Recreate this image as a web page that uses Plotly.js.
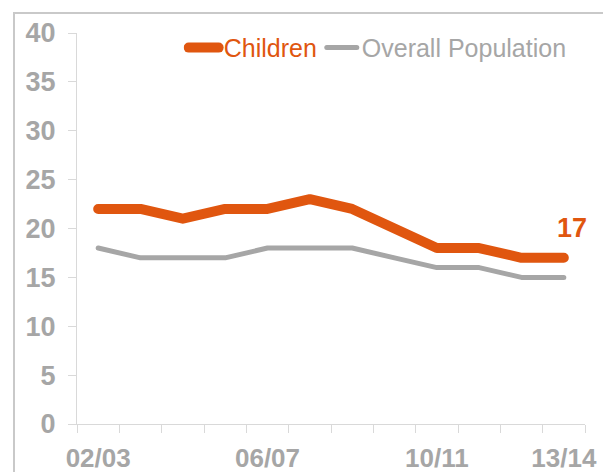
<!DOCTYPE html>
<html>
<head>
<meta charset="utf-8">
<script src="https://cdn.plot.ly/plotly-3.0.1.min.js"></script>
<style>
  html, body { margin: 0; padding: 0; background: #fff; }
  #wrap { position: relative; width: 603px; height: 472px; overflow: hidden; }
  #frame { position: absolute; left: 13px; top: 12px; width: 620px; height: 500px;
           border-left: 2px solid #c9c9c9; border-top: 2px solid #c9c9c9; }
  #chart { position: absolute; left: 0; top: 0; width: 603px; height: 472px; }
  #chart path.js-line { stroke-linecap: round; stroke-linejoin: round; }
</style>
</head>
<body>
<div id="wrap">
  <div id="frame"></div>
  <div id="chart"></div>
</div>
<script>
// Financial years shown on the x axis
const years = ['02/03', '03/04', '04/05', '05/06', '06/07', '07/08',
               '08/09', '09/10', '10/11', '11/12', '12/13', '13/14'];
// Only some years carry a visible label
const yearLabels = ['02/03', '', '', '', '06/07', '', '', '', '10/11', '', '', '13/14'];

// Rates (%) per year
const children = [22, 22, 21, 22, 22, 23, 22, 20, 18, 18, 17, 17];
const overall  = [18, 17, 17, 17, 18, 18, 18, 17, 16, 16, 15, 15];

const yTicks = [0, 5, 10, 15, 20, 25, 30, 35, 40];

const ORANGE = '#e0560f';
const GREY = '#a6a6a6';
const AXIS = '#d9d9d9';
const FONT = 'Liberation Sans, Arial, sans-serif';

const traces = [
  {
    x: years, y: children, type: 'scatter', mode: 'lines',
    name: '<span style="color:' + ORANGE + '">Children</span>',
    line: { color: ORANGE, width: 10 }
  },
  {
    x: years, y: overall, type: 'scatter', mode: 'lines',
    name: '<span style="color:' + GREY + '">Overall Population</span>',
    line: { color: GREY, width: 5 }
  }
];

const last = years.length - 1;

const layout = {
  width: 603, height: 472,
  margin: { l: 77, r: 18, t: 33, b: 48 },
  paper_bgcolor: 'rgba(0,0,0,0)',
  plot_bgcolor: 'rgba(0,0,0,0)',
  font: { family: FONT },
  showlegend: true,
  legend: {
    orientation: 'h', x: 0.21, xanchor: 'left', y: 0.962, yanchor: 'middle',
    font: { size: 25, color: GREY, family: FONT },
    bgcolor: 'rgba(0,0,0,0)', itemclick: false, tracegroupgap: 0
  },
  xaxis: {
    type: 'category', range: [-0.5, years.length - 0.5],
    tickmode: 'array', tickvals: years, ticktext: yearLabels, tickangle: 0,
    tickson: 'boundaries', ticks: 'outside', ticklen: 8, tickcolor: AXIS, tickwidth: 1,
    showline: true, linecolor: AXIS, linewidth: 1,
    showgrid: false, zeroline: false,
    ticklabelstandoff: 11,
    tickfont: { size: 26, color: GREY, family: FONT, weight: 'bold' },
    fixedrange: true
  },
  yaxis: {
    range: [0, 40], tickmode: 'array', tickvals: yTicks,
    ticks: 'outside', ticklen: 8, tickcolor: AXIS, tickwidth: 1,
    showline: true, linecolor: AXIS, linewidth: 1,
    showgrid: false, zeroline: false,
    ticklabelstandoff: 7,
    tickfont: { size: 27, color: GREY, family: FONT, weight: 'bold' },
    fixedrange: true
  },
  annotations: [
    {
      x: years[last], y: children[last], xref: 'x', yref: 'y',
      text: String(children[last]), showarrow: false,
      xshift: 8, yshift: 30,
      font: { size: 27, color: ORANGE, family: FONT, weight: 'bold' }
    }
  ]
};

Plotly.newPlot('chart', traces, layout, { displayModeBar: false, staticPlot: true });
</script>
</body>
</html>
